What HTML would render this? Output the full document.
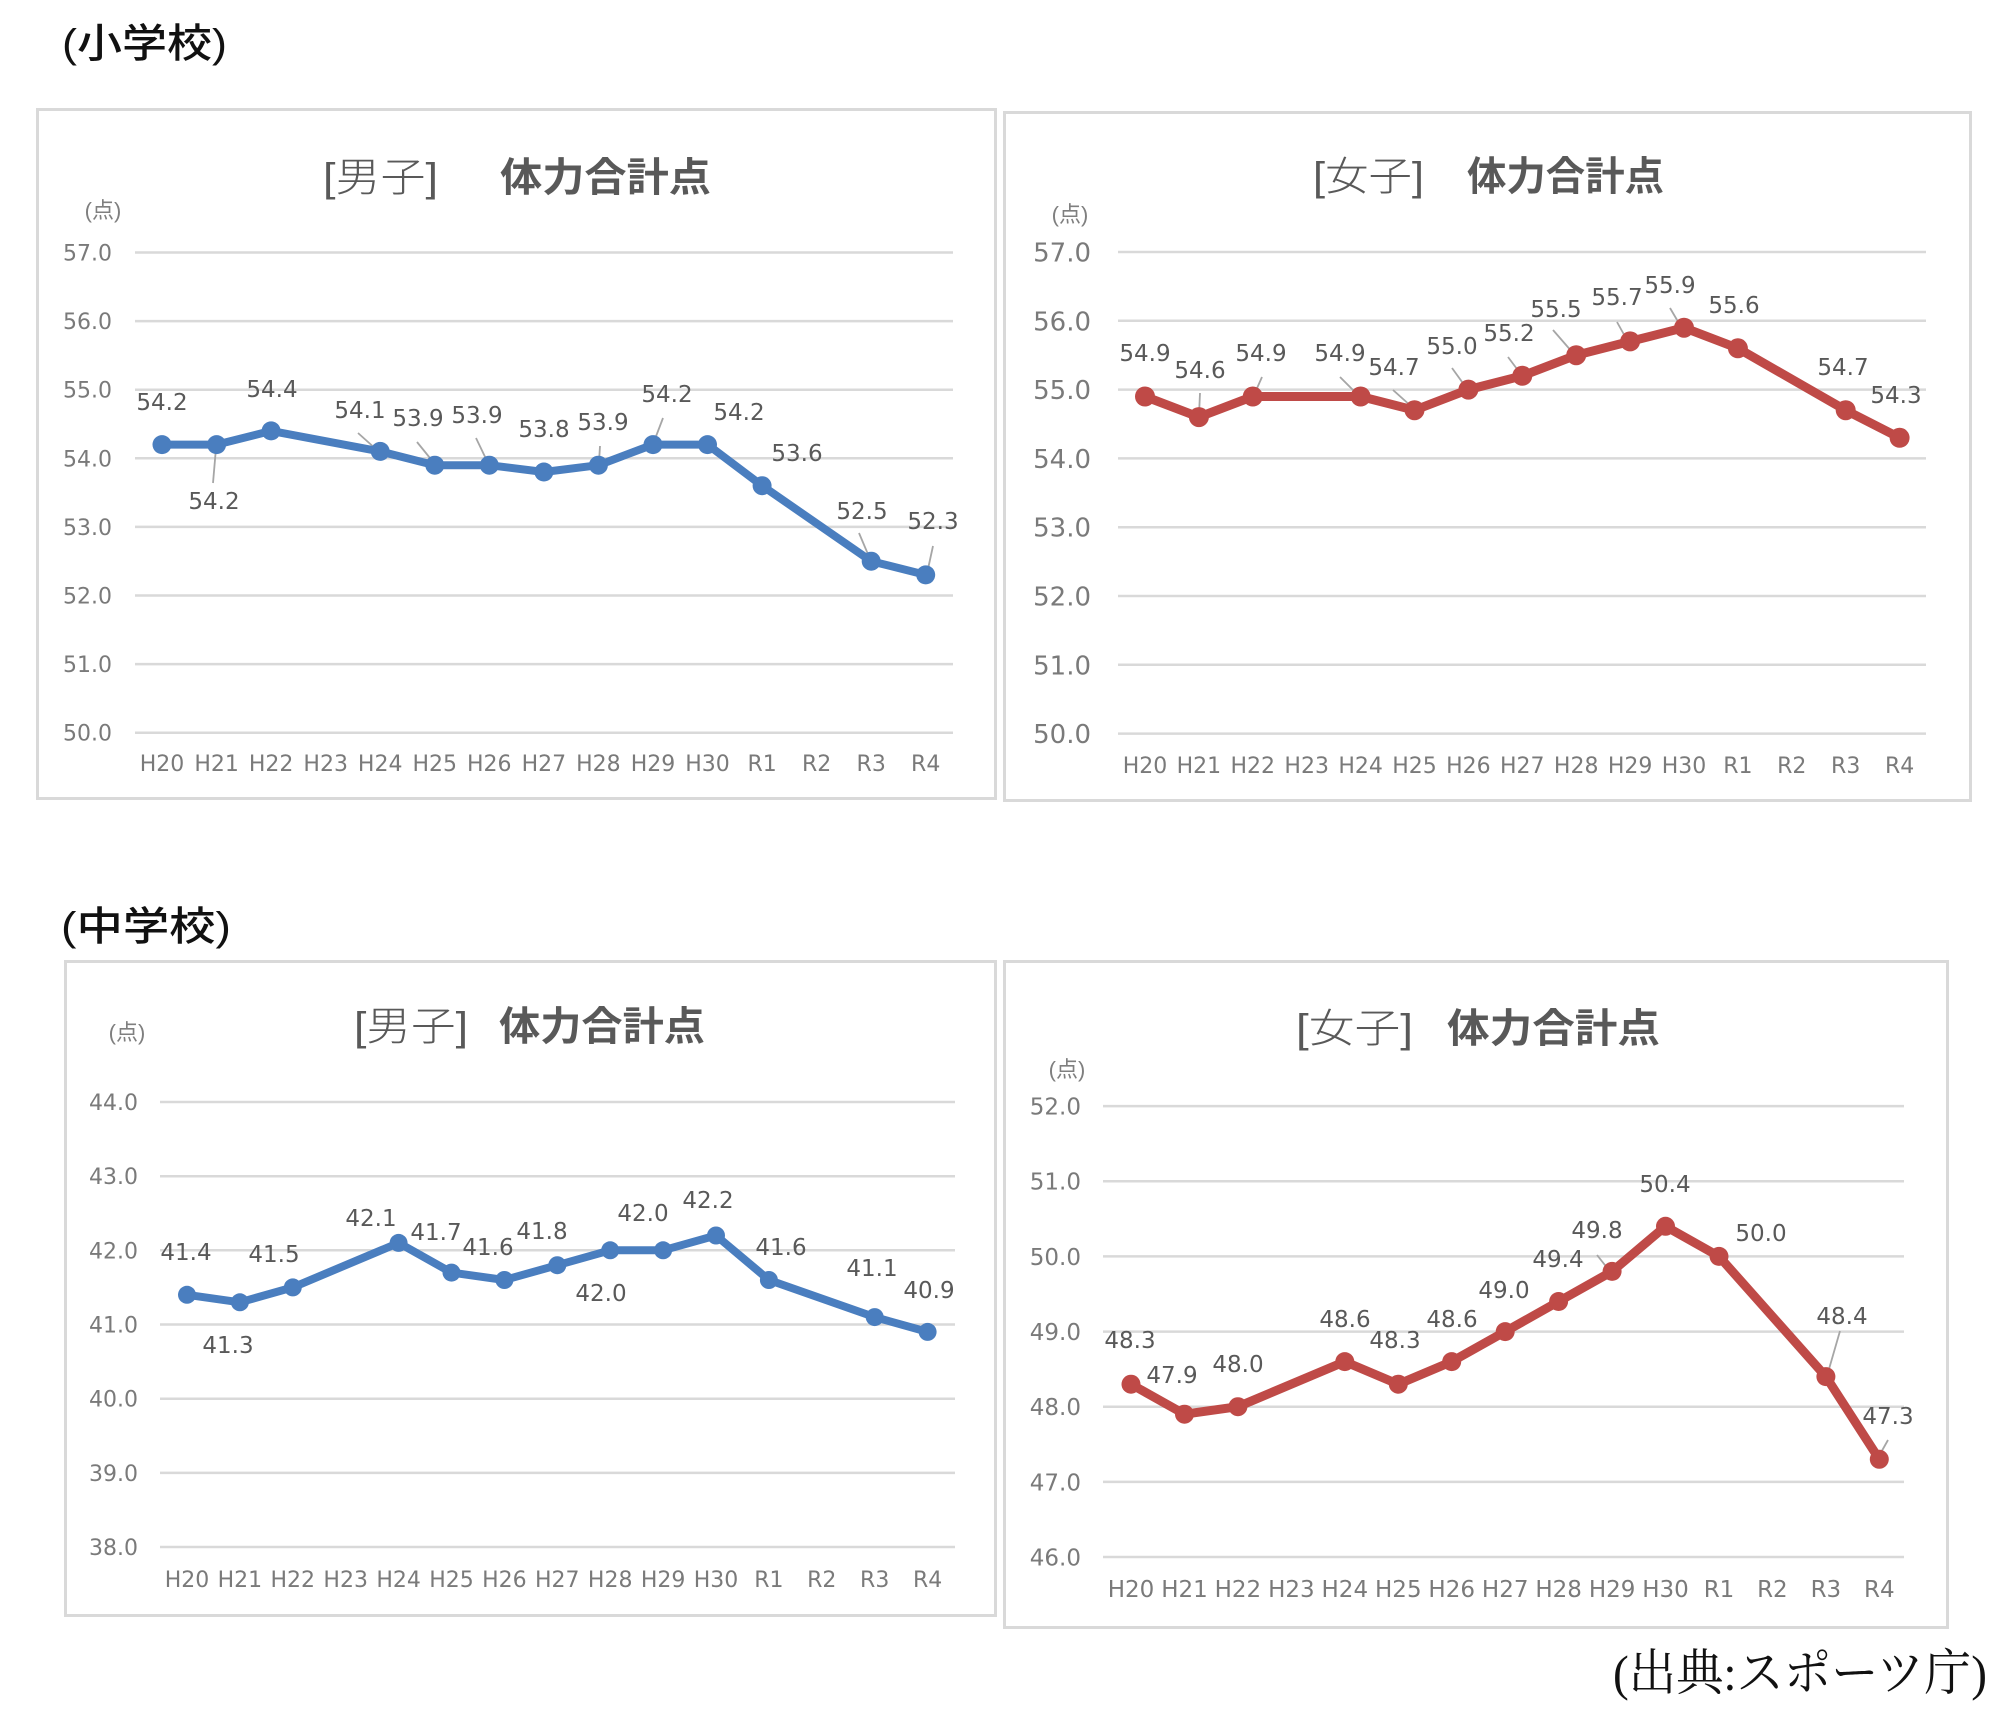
<!DOCTYPE html>
<html><head><meta charset="utf-8"><style>
html,body{margin:0;padding:0;background:#fff;}
svg{display:block;}
.ax{font-family:"DejaVu Sans","Liberation Sans",sans-serif;fill:#7a7a7a;}
.dl{font-family:"DejaVu Sans","Liberation Sans",sans-serif;fill:#595959;font-size:23px;text-anchor:middle;}
.jp{font-family:"Liberation Sans","Noto Sans CJK JP",sans-serif;}
.grid line{stroke:#d9d9d9;stroke-width:2.5;}
.lead line{stroke:#a6a6a6;stroke-width:1.8;}
</style></head><body>
<svg width="2000" height="1716" viewBox="0 0 2000 1716" xmlns="http://www.w3.org/2000/svg">
<rect width="2000" height="1716" fill="#fff"/>

<!-- Section titles -->
<text class="jp" x="62" y="57" font-size="40" font-weight="500" fill="#111" textLength="165" lengthAdjust="spacingAndGlyphs">(小学校)</text>
<text class="jp" x="61" y="940" font-size="40" font-weight="500" fill="#111" textLength="170" lengthAdjust="spacingAndGlyphs">(中学校)</text>
<text x="1613" y="1690" font-family="'Liberation Serif','Noto Serif CJK SC',serif" font-size="50" fill="#111" textLength="374" lengthAdjust="spacingAndGlyphs">(出典:スポーツ庁)</text>

<!-- ================= Chart A (top-left) ================= -->
<rect x="37.5" y="109.5" width="958" height="689" fill="#fff" stroke="#d9d9d9" stroke-width="3"/>
<text class="jp" x="323" y="191" font-size="40" fill="#595959" font-weight="300" textLength="115" lengthAdjust="spacingAndGlyphs">[男子]</text>
<text class="jp" x="500" y="191" font-size="40" fill="#595959" font-weight="bold" textLength="211" lengthAdjust="spacingAndGlyphs">体力合計点</text>
<text class="jp" x="103" y="218" font-size="22" fill="#7f7f7f" text-anchor="middle">(点)</text>
<g class="grid">
<line x1="135" x2="953" y1="252.5" y2="252.5"/><line x1="135" x2="953" y1="321.1" y2="321.1"/>
<line x1="135" x2="953" y1="389.7" y2="389.7"/><line x1="135" x2="953" y1="458.3" y2="458.3"/>
<line x1="135" x2="953" y1="526.9" y2="526.9"/><line x1="135" x2="953" y1="595.5" y2="595.5"/>
<line x1="135" x2="953" y1="664.1" y2="664.1"/><line x1="135" x2="953" y1="732.7" y2="732.7"/>
</g>
<g class="ax" font-size="22" text-anchor="end">
<text x="112" y="260.5">57.0</text><text x="112" y="329.1">56.0</text><text x="112" y="397.7">55.0</text>
<text x="112" y="466.3">54.0</text><text x="112" y="534.9">53.0</text><text x="112" y="603.5">52.0</text>
<text x="112" y="672.1">51.0</text><text x="112" y="740.7">50.0</text>
</g>
<g class="ax" font-size="22" text-anchor="middle">
<text x="162" y="771">H20</text><text x="216.6" y="771">H21</text><text x="271.1" y="771">H22</text>
<text x="325.7" y="771">H23</text><text x="380.2" y="771">H24</text><text x="434.8" y="771">H25</text>
<text x="489.3" y="771">H26</text><text x="543.9" y="771">H27</text><text x="598.4" y="771">H28</text>
<text x="653" y="771">H29</text><text x="707.5" y="771">H30</text><text x="762.1" y="771">R1</text>
<text x="816.6" y="771">R2</text><text x="871.2" y="771">R3</text><text x="925.7" y="771">R4</text>
</g>
<g class="lead">
<line x1="213" y1="483" x2="216" y2="448"/><line x1="358" y1="433" x2="377" y2="450"/>
<line x1="417" y1="442" x2="434" y2="463"/><line x1="476" y1="438" x2="488" y2="463"/>
<line x1="600" y1="446" x2="599" y2="462"/><line x1="663" y1="418" x2="655" y2="439"/>
<line x1="859" y1="533" x2="870" y2="559"/><line x1="933" y1="546" x2="928" y2="569"/>
</g>
<polyline fill="none" stroke="#4A7EBF" stroke-width="8" stroke-linejoin="round" points="162,444.6 216.6,444.6 271.1,430.9 380.2,451.4 434.8,465.2 489.3,465.2 543.9,472 598.4,465.2 653,444.6 707.5,444.6 762.1,485.7 871.2,561.2 925.7,574.9"/>
<g fill="#4A7EBF">
<circle cx="162" cy="444.6" r="9.5"/><circle cx="216.6" cy="444.6" r="9.5"/><circle cx="271.1" cy="430.9" r="9.5"/>
<circle cx="380.2" cy="451.4" r="9.5"/><circle cx="434.8" cy="465.2" r="9.5"/><circle cx="489.3" cy="465.2" r="9.5"/>
<circle cx="543.9" cy="472" r="9.5"/><circle cx="598.4" cy="465.2" r="9.5"/><circle cx="653" cy="444.6" r="9.5"/>
<circle cx="707.5" cy="444.6" r="9.5"/><circle cx="762.1" cy="485.7" r="9.5"/><circle cx="871.2" cy="561.2" r="9.5"/>
<circle cx="925.7" cy="574.9" r="9.5"/>
</g>
<g class="dl">
<text x="162" y="410">54.2</text><text x="214" y="509">54.2</text><text x="272" y="397">54.4</text>
<text x="360" y="418">54.1</text><text x="418" y="426">53.9</text><text x="477" y="423">53.9</text>
<text x="544" y="437">53.8</text><text x="603" y="430">53.9</text><text x="667" y="402">54.2</text>
<text x="739" y="420">54.2</text><text x="797" y="461">53.6</text><text x="862" y="519">52.5</text>
<text x="933" y="529">52.3</text>
</g>

<!-- ================= Chart B (top-right) ================= -->
<rect x="1004.5" y="112.5" width="966" height="688" fill="#fff" stroke="#d9d9d9" stroke-width="3"/>
<text class="jp" x="1313" y="190" font-size="40" fill="#595959" font-weight="300" textLength="111" lengthAdjust="spacingAndGlyphs">[女子]</text>
<text class="jp" x="1467" y="190" font-size="40" fill="#595959" font-weight="bold" textLength="197" lengthAdjust="spacingAndGlyphs">体力合計点</text>
<text class="jp" x="1070" y="222" font-size="22" fill="#7f7f7f" text-anchor="middle">(点)</text>
<g class="grid">
<line x1="1118" x2="1926" y1="252" y2="252"/><line x1="1118" x2="1926" y1="320.8" y2="320.8"/>
<line x1="1118" x2="1926" y1="389.6" y2="389.6"/><line x1="1118" x2="1926" y1="458.4" y2="458.4"/>
<line x1="1118" x2="1926" y1="527.2" y2="527.2"/><line x1="1118" x2="1926" y1="596" y2="596"/>
<line x1="1118" x2="1926" y1="664.8" y2="664.8"/><line x1="1118" x2="1926" y1="733.6" y2="733.6"/>
</g>
<g class="ax" font-size="26" text-anchor="end">
<text x="1091" y="261.5">57.0</text><text x="1091" y="330.3">56.0</text><text x="1091" y="399.1">55.0</text>
<text x="1091" y="467.9">54.0</text><text x="1091" y="536.7">53.0</text><text x="1091" y="605.5">52.0</text>
<text x="1091" y="674.3">51.0</text><text x="1091" y="743.1">50.0</text>
</g>
<g class="ax" font-size="22" text-anchor="middle">
<text x="1145" y="773">H20</text><text x="1198.9" y="773">H21</text><text x="1252.8" y="773">H22</text>
<text x="1306.7" y="773">H23</text><text x="1360.6" y="773">H24</text><text x="1414.5" y="773">H25</text>
<text x="1468.4" y="773">H26</text><text x="1522.3" y="773">H27</text><text x="1576.2" y="773">H28</text>
<text x="1630.1" y="773">H29</text><text x="1684" y="773">H30</text><text x="1737.9" y="773">R1</text>
<text x="1791.8" y="773">R2</text><text x="1845.7" y="773">R3</text><text x="1899.6" y="773">R4</text>
</g>
<g class="lead">
<line x1="1200" y1="393" x2="1199" y2="415"/><line x1="1262" y1="377" x2="1254" y2="395"/>
<line x1="1340" y1="377" x2="1358" y2="395"/><line x1="1393" y1="390" x2="1412" y2="407"/>
<line x1="1452" y1="368" x2="1465" y2="386"/><line x1="1508" y1="357" x2="1520" y2="373"/>
<line x1="1553" y1="330" x2="1573" y2="353"/><line x1="1617" y1="322" x2="1627" y2="340"/>
<line x1="1670" y1="308" x2="1680" y2="325"/>
</g>
<polyline fill="none" stroke="#BF4A47" stroke-width="9" stroke-linejoin="round" points="1145,396.5 1198.9,417.1 1252.8,396.5 1360.6,396.5 1414.5,410.2 1468.4,389.6 1522.3,375.8 1576.2,355.2 1630.1,341.4 1684,327.7 1737.9,348.3 1845.7,410.2 1899.6,437.8"/>
<g fill="#BF4A47">
<circle cx="1145" cy="396.5" r="10"/><circle cx="1198.9" cy="417.1" r="10"/><circle cx="1252.8" cy="396.5" r="10"/>
<circle cx="1360.6" cy="396.5" r="10"/><circle cx="1414.5" cy="410.2" r="10"/><circle cx="1468.4" cy="389.6" r="10"/>
<circle cx="1522.3" cy="375.8" r="10"/><circle cx="1576.2" cy="355.2" r="10"/><circle cx="1630.1" cy="341.4" r="10"/>
<circle cx="1684" cy="327.7" r="10"/><circle cx="1737.9" cy="348.3" r="10"/><circle cx="1845.7" cy="410.2" r="10"/>
<circle cx="1899.6" cy="437.8" r="10"/>
</g>
<g class="dl">
<text x="1145" y="361">54.9</text><text x="1200" y="378">54.6</text><text x="1261" y="361">54.9</text>
<text x="1340" y="361">54.9</text><text x="1394" y="375">54.7</text><text x="1452" y="354">55.0</text>
<text x="1509" y="341">55.2</text><text x="1556" y="317">55.5</text><text x="1617" y="305">55.7</text>
<text x="1670" y="293">55.9</text><text x="1734" y="313">55.6</text><text x="1843" y="375">54.7</text>
<text x="1896" y="403">54.3</text>
</g>

<!-- ================= Chart C (bottom-left) ================= -->
<rect x="65.5" y="961.5" width="930" height="654" fill="#fff" stroke="#d9d9d9" stroke-width="3"/>
<text class="jp" x="354" y="1040" font-size="40" fill="#595959" font-weight="300" textLength="114" lengthAdjust="spacingAndGlyphs">[男子]</text>
<text class="jp" x="499" y="1040" font-size="40" fill="#595959" font-weight="bold" textLength="206" lengthAdjust="spacingAndGlyphs">体力合計点</text>
<text class="jp" x="127" y="1040" font-size="22" fill="#7f7f7f" text-anchor="middle">(点)</text>
<g class="grid">
<line x1="160" x2="955" y1="1102" y2="1102"/><line x1="160" x2="955" y1="1176.2" y2="1176.2"/>
<line x1="160" x2="955" y1="1250.3" y2="1250.3"/><line x1="160" x2="955" y1="1324.5" y2="1324.5"/>
<line x1="160" x2="955" y1="1398.7" y2="1398.7"/><line x1="160" x2="955" y1="1472.9" y2="1472.9"/>
<line x1="160" x2="955" y1="1547" y2="1547"/>
</g>
<g class="ax" font-size="22" text-anchor="end">
<text x="138" y="1110">44.0</text><text x="138" y="1184.2">43.0</text><text x="138" y="1258.3">42.0</text>
<text x="138" y="1332.5">41.0</text><text x="138" y="1406.7">40.0</text><text x="138" y="1480.9">39.0</text>
<text x="138" y="1555">38.0</text>
</g>
<g class="ax" font-size="22" text-anchor="middle">
<text x="187" y="1587">H20</text><text x="239.9" y="1587">H21</text><text x="292.8" y="1587">H22</text>
<text x="345.7" y="1587">H23</text><text x="398.6" y="1587">H24</text><text x="451.5" y="1587">H25</text>
<text x="504.4" y="1587">H26</text><text x="557.3" y="1587">H27</text><text x="610.2" y="1587">H28</text>
<text x="663.1" y="1587">H29</text><text x="716" y="1587">H30</text><text x="768.9" y="1587">R1</text>
<text x="821.8" y="1587">R2</text><text x="874.7" y="1587">R3</text><text x="927.6" y="1587">R4</text>
</g>
<polyline fill="none" stroke="#4A7EBF" stroke-width="8" stroke-linejoin="round" points="187,1294.8 239.9,1302.3 292.8,1287.4 398.6,1242.9 451.5,1272.6 504.4,1280 557.3,1265.2 610.2,1250.3 663.1,1250.3 716,1235.5 768.9,1280 874.7,1317.1 927.6,1331.9"/>
<g fill="#4A7EBF">
<circle cx="187" cy="1294.8" r="9"/><circle cx="239.9" cy="1302.3" r="9"/><circle cx="292.8" cy="1287.4" r="9"/>
<circle cx="398.6" cy="1242.9" r="9"/><circle cx="451.5" cy="1272.6" r="9"/><circle cx="504.4" cy="1280" r="9"/>
<circle cx="557.3" cy="1265.2" r="9"/><circle cx="610.2" cy="1250.3" r="9"/><circle cx="663.1" cy="1250.3" r="9"/>
<circle cx="716" cy="1235.5" r="9"/><circle cx="768.9" cy="1280" r="9"/><circle cx="874.7" cy="1317.1" r="9"/>
<circle cx="927.6" cy="1331.9" r="9"/>
</g>
<g class="dl">
<text x="186" y="1260">41.4</text><text x="228" y="1353">41.3</text><text x="274" y="1262">41.5</text>
<text x="371" y="1226">42.1</text><text x="436" y="1240">41.7</text><text x="488" y="1255">41.6</text>
<text x="542" y="1239">41.8</text><text x="601" y="1301">42.0</text><text x="643" y="1221">42.0</text>
<text x="708" y="1208">42.2</text><text x="781" y="1255">41.6</text><text x="872" y="1276">41.1</text>
<text x="929" y="1298">40.9</text>
</g>

<!-- ================= Chart D (bottom-right) ================= -->
<rect x="1004.5" y="961.5" width="943" height="666" fill="#fff" stroke="#d9d9d9" stroke-width="3"/>
<text class="jp" x="1296" y="1042" font-size="40" fill="#595959" font-weight="300" textLength="117" lengthAdjust="spacingAndGlyphs">[女子]</text>
<text class="jp" x="1447" y="1042" font-size="40" fill="#595959" font-weight="bold" textLength="213" lengthAdjust="spacingAndGlyphs">体力合計点</text>
<text class="jp" x="1067" y="1077" font-size="22" fill="#7f7f7f" text-anchor="middle">(点)</text>
<g class="grid">
<line x1="1103" x2="1904" y1="1106.1" y2="1106.1"/><line x1="1103" x2="1904" y1="1181.3" y2="1181.3"/>
<line x1="1103" x2="1904" y1="1256.4" y2="1256.4"/><line x1="1103" x2="1904" y1="1331.6" y2="1331.6"/>
<line x1="1103" x2="1904" y1="1406.7" y2="1406.7"/><line x1="1103" x2="1904" y1="1481.9" y2="1481.9"/>
<line x1="1103" x2="1904" y1="1557" y2="1557"/>
</g>
<g class="ax" font-size="23" text-anchor="end">
<text x="1081" y="1114.5">52.0</text><text x="1081" y="1189.7">51.0</text><text x="1081" y="1264.8">50.0</text>
<text x="1081" y="1340">49.0</text><text x="1081" y="1415.1">48.0</text><text x="1081" y="1490.3">47.0</text>
<text x="1081" y="1565.4">46.0</text>
</g>
<g class="ax" font-size="23" text-anchor="middle">
<text x="1131" y="1597">H20</text><text x="1184.5" y="1597">H21</text><text x="1237.9" y="1597">H22</text>
<text x="1291.4" y="1597">H23</text><text x="1344.8" y="1597">H24</text><text x="1398.3" y="1597">H25</text>
<text x="1451.7" y="1597">H26</text><text x="1505.2" y="1597">H27</text><text x="1558.6" y="1597">H28</text>
<text x="1612.1" y="1597">H29</text><text x="1665.5" y="1597">H30</text><text x="1719" y="1597">R1</text>
<text x="1772.4" y="1597">R2</text><text x="1825.9" y="1597">R3</text><text x="1879.3" y="1597">R4</text>
</g>
<g class="lead">
<line x1="1597" y1="1255" x2="1612" y2="1274"/><line x1="1840" y1="1331" x2="1827" y2="1376"/>
<line x1="1888" y1="1440" x2="1879" y2="1456"/>
</g>
<polyline fill="none" stroke="#BF4A47" stroke-width="9" stroke-linejoin="round" points="1131,1384.2 1184.5,1414.2 1237.9,1406.7 1344.8,1361.6 1398.3,1384.2 1451.7,1361.6 1505.2,1331.6 1558.6,1301.5 1612.1,1271.4 1665.5,1226.3 1719,1256.4 1825.9,1376.6 1879.3,1459.3"/>
<g fill="#BF4A47">
<circle cx="1131" cy="1384.2" r="9.5"/><circle cx="1184.5" cy="1414.2" r="9.5"/><circle cx="1237.9" cy="1406.7" r="9.5"/>
<circle cx="1344.8" cy="1361.6" r="9.5"/><circle cx="1398.3" cy="1384.2" r="9.5"/><circle cx="1451.7" cy="1361.6" r="9.5"/>
<circle cx="1505.2" cy="1331.6" r="9.5"/><circle cx="1558.6" cy="1301.5" r="9.5"/><circle cx="1612.1" cy="1271.4" r="9.5"/>
<circle cx="1665.5" cy="1226.3" r="9.5"/><circle cx="1719" cy="1256.4" r="9.5"/><circle cx="1825.9" cy="1376.6" r="9.5"/>
<circle cx="1879.3" cy="1459.3" r="9.5"/>
</g>
<g class="dl">
<text x="1130" y="1348">48.3</text><text x="1172" y="1383">47.9</text><text x="1238" y="1372">48.0</text>
<text x="1345" y="1327">48.6</text><text x="1395" y="1348">48.3</text><text x="1452" y="1327">48.6</text>
<text x="1504" y="1298">49.0</text><text x="1558" y="1267">49.4</text><text x="1597" y="1238">49.8</text>
<text x="1665" y="1192">50.4</text><text x="1761" y="1241">50.0</text><text x="1842" y="1324">48.4</text>
<text x="1888" y="1424">47.3</text>
</g>
</svg>
</body></html>
